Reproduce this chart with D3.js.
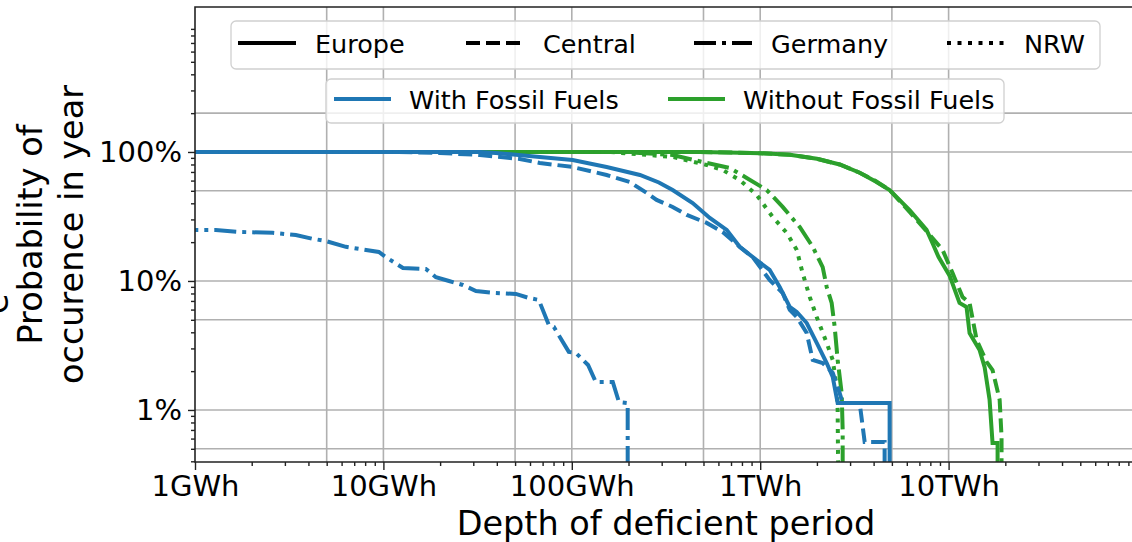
<!DOCTYPE html>
<html>
<head>
<meta charset="utf-8">
<script src="https://cdn.jsdelivr.net/npm/d3@7"></script>
<style>
body { margin: 0; background: #fff; }
svg { display: block; font-family: "DejaVu Sans", sans-serif; }
</style>
</head>
<body>
<div id="chart"></div>
<script>
// depth in GWh, probability in %
const europeWith = [[0.5,100],[32.5,100],[39.5,98.2],[67.6,91.5],[101,86.7],[153,76.5],[230,66.3],[290,58],[343,50.7],[438,40.2],[540,30.8],[664,24.9],[778,18.4],[958,14.5],[1122,12.2],[1269,8.98],[1435,6.29],[1563,5.75],[1766,4.72],[1995,3.31],[2254,2.31],[2427,1.8],[2577,1.13],[4864,1.13],[4864,0.1]]
const centralWith = [[0.5,100],[12,100],[19.9,98.2],[32.5,94.8],[53,88.2],[67.6,82.2],[101,76.5],[153,66.3],[203,58.5],[250,48.1],[282,42.5],[343,37.5],[408,32.5],[520,28.2],[632,24],[778,18.4],[912,15.3],[1122,10.2],[1316,8.07],[1435,5.96],[1563,5.26],[1766,3.95],[1900,2.44],[2146,2.31],[2427,1.94],[2642,1.35],[2740,1.13],[3373,1.13],[3585,0.565],[4575,0.565],[4575,0.1]]
const germanyWith = [[0.5,24.8],[1.29,24.8],[1.71,24],[2.59,23.6],[3.43,22.7],[4.23,21.2],[4.95,20.4],[6.32,18.4],[9.46,16.8],[10.3,15.3],[12.7,12.6],[16.8,12.4],[19,10.7],[22.3,10],[26.4,9.31],[31,8.36],[39.5,8.07],[50.5,7.93],[59.1,7.38],[66.8,7.13],[75.5,4.56],[80.3,4.4],[96.4,2.82],[105,2.77],[122,2.23],[134,1.65],[165,1.65],[178,1.15],[198,1.13],[198,0.1]]

const europeWithout = [[0.5,100],[478,100],[778,98.6],[1000,97.8],[1435,95.2],[2000,88.5],[2642,80],[3373,69],[4100,59],[4864,50.7],[6209,35.5],[7640,24.9],[8230,19.5],[8850,15.3],[10120,11],[11430,6.75],[12450,6.29],[12920,3.95],[14600,2.92],[15530,2.15],[16500,1.2],[17110,0.555],[18200,0.555],[18200,0.1]]
const centralWithout = [[0.5,100],[478,100],[778,98.6],[1000,97.8],[1435,95.2],[2000,88.5],[2642,80],[3373,69],[4100,59.5],[4864,50.7],[6209,34.3],[7800,23.5],[9290,17.4],[10500,11.5],[11860,7.52],[12920,6.75],[14090,3.49],[15920,2.36],[17110,2.04],[18660,1.2],[19100,0.618],[19100,0.1]]
const germanyWithout = [[0.5,100],[180,100],[230,98.2],[343,94.8],[520,82.2],[689,75.2],[848,62.9],[1083,50.7],[1316,37.5],[1621,26.2],[1900,18.4],[2146,12.8],[2254,8.98],[2395,6.75],[2485,4.4],[2577,2.44],[2707,1.35],[2740,0.7],[2740,0.1]]
const nrwWithout = [[0.5,100],[159,100],[343,91.5],[520,79.3],[632,72.5],[778,60.7],[958,46.4],[1165,31.3],[1383,23.6],[1563,17.4],[1680,11.5],[1832,7.52],[1995,5.26],[2254,3.31],[2427,2.44],[2547,1.51],[2577,1],[2609,0.1]]

const regionNames = ['Europe', 'Central', 'Germany', 'NRW']
const scenarioNames = ['With Fossil Fuels', 'Without Fossil Fuels']
const xTickValues = [1, 10, 100, 1000, 10000]
const xTickLabels = ['1GWh', '10GWh', '100GWh', '1TWh', '10TWh']
const yTickValues = [1, 10, 100]
const yTickLabels = ['1%', '10%', '100%']
const xGrid = [5, 10, 50, 100, 500, 1000, 5000, 10000]
const yGrid = [0.5, 1, 5, 10, 50, 100, 200]

const width = 1132
const height = 542
const plot = {left: 195, right: 1137, top: 7, bottom: 462}
const blue = '#1f77b4'
const green = '#2ca02c'
const dashes = {Europe: null, Central: '14,6', Germany: '22,6,4,6', NRW: '4,6.5'}

const svg = d3.select('#chart')
    .append('svg')
    .attr('width', width)
    .attr('height', height)

const x = d3.scaleLog().domain([1, 1e5]).range([plot.left, plot.right])
const y = d3.scaleLog().domain([0.395, 1330]).range([plot.bottom, plot.top])

svg.append('clipPath').attr('id', 'clip')
    .append('rect')
    .attr('x', plot.left).attr('y', plot.top)
    .attr('width', plot.right - plot.left).attr('height', plot.bottom - plot.top)

// grid
svg.append('g').selectAll('line')
    .data(xGrid)
    .enter().append('line')
    .attr('x1', d => x(d)).attr('x2', d => x(d))
    .attr('y1', plot.top).attr('y2', plot.bottom)
    .attr('stroke', '#b0b0b0').attr('stroke-width', 1.6)
svg.append('g').selectAll('line')
    .data(yGrid)
    .enter().append('line')
    .attr('y1', d => y(d)).attr('y2', d => y(d))
    .attr('x1', plot.left).attr('x2', plot.right)
    .attr('stroke', '#b0b0b0').attr('stroke-width', 1.6)

// curves
const line = d3.line().x(d => x(d[0])).y(d => y(d[1]))
const curves = [
    {data: europeWithout, color: green, region: 'Europe'},
    {data: centralWithout, color: green, region: 'Central'},
    {data: germanyWithout, color: green, region: 'Germany'},
    {data: nrwWithout, color: green, region: 'NRW'},
    {data: europeWith, color: blue, region: 'Europe'},
    {data: centralWith, color: blue, region: 'Central'},
    {data: germanyWith, color: blue, region: 'Germany'}
]
svg.append('g')
    .attr('clip-path', 'url(#clip)')
    .selectAll('path')
    .data(curves)
    .enter().append('path')
    .attr('d', d => line(d.data))
    .attr('fill', 'none')
    .attr('stroke', d => d.color)
    .attr('stroke-width', 4)
    .attr('stroke-dasharray', d => dashes[d.region])

// axes
const minorX = x.ticks().filter(v => !xTickValues.includes(v) && v < 1e5 && Math.log10(v) % 1 !== 0)
const minorY = y.ticks().filter(v => Math.abs(Math.log10(v) % 1) > 1e-6)

function styleAxis(g) {
    g.select('.domain').remove()
    g.selectAll('.tick line').attr('stroke', '#222').attr('stroke-width', 1.4)
    g.selectAll('.tick text').attr('fill', '#000').attr('font-size', 29)
        .attr('font-family', '"DejaVu Sans", sans-serif')
}

svg.append('g')
    .attr('transform', `translate(0, ${plot.bottom})`)
    .call(d3.axisBottom(x).tickValues(minorX).tickFormat('').tickSize(4).tickSizeOuter(0))
    .call(styleAxis)
svg.append('g')
    .attr('transform', `translate(0, ${plot.bottom})`)
    .call(d3.axisBottom(x).tickValues(xTickValues)
        .tickFormat((d, i) => xTickLabels[i]).tickSize(8).tickPadding(5).tickSizeOuter(0))
    .call(styleAxis)
svg.append('g')
    .attr('transform', `translate(${plot.left}, 0)`)
    .call(d3.axisLeft(y).tickValues(minorY).tickFormat('').tickSize(4).tickSizeOuter(0))
    .call(styleAxis)
svg.append('g')
    .attr('transform', `translate(${plot.left}, 0)`)
    .call(d3.axisLeft(y).tickValues(yTickValues)
        .tickFormat((d, i) => yTickLabels[i]).tickSize(7).tickPadding(6).tickSizeOuter(0))
    .call(styleAxis)

// spines
svg.append('path')
    .attr('d', `M${plot.right},${plot.top}H${plot.left}V${plot.bottom}H${plot.right}`)
    .attr('fill', 'none').attr('stroke', '#222').attr('stroke-width', 1.6)

// labels
svg.append('text')
    .attr('x', (plot.left + plot.right) / 2).attr('y', 535)
    .attr('text-anchor', 'middle').attr('font-size', 33.5)
    .text('Depth of deficient period')
const yMid = (plot.top + plot.bottom) / 2
svg.append('text')
    .attr('transform', `translate(42, ${yMid}) rotate(-90)`)
    .attr('text-anchor', 'middle').attr('font-size', 33.5)
    .text('Probability of')
svg.append('text')
    .attr('transform', `translate(83, ${yMid}) rotate(-90)`)
    .attr('text-anchor', 'middle').attr('font-size', 33.5)
    .text('occurence in year')
// fragment of a neighbouring label, cut at the left edge as in the source image
svg.append('text')
    .attr('transform', 'translate(8, 314) rotate(-90)')
    .attr('font-size', 33.5)
    .text('e')

// legends
function legendBox(bx, by, bw, bh) {
    svg.append('rect')
        .attr('x', bx).attr('y', by).attr('width', bw).attr('height', bh)
        .attr('rx', 5)
        .attr('fill', '#fff').attr('fill-opacity', 0.8)
        .attr('stroke', '#d0d0d0').attr('stroke-width', 1.3)
}

legendBox(231, 21, 869, 48)
const leg1 = svg.append('g').selectAll('g')
    .data(regionNames)
    .enter().append('g')
    .attr('transform', (d, i) => `translate(${[238, 466, 694, 947][i]}, 43)`)
leg1.append('line')
    .attr('x1', 0).attr('x2', 58)
    .attr('stroke', '#000').attr('stroke-width', 4)
    .attr('stroke-dasharray', d => dashes[d])
leg1.append('text')
    .attr('x', 77).attr('y', 10)
    .attr('font-size', 25.5)
    .text(d => d)

legendBox(326, 79, 678, 44)
const leg2 = svg.append('g').selectAll('g')
    .data(scenarioNames)
    .enter().append('g')
    .attr('transform', (d, i) => `translate(${[334, 668][i]}, 99)`)
leg2.append('line')
    .attr('x1', 0).attr('x2', 57)
    .attr('stroke', (d, i) => [blue, green][i]).attr('stroke-width', 4)
leg2.append('text')
    .attr('x', 75).attr('y', 10)
    .attr('font-size', 25.5)
    .text(d => d)
</script>
</body>
</html>
